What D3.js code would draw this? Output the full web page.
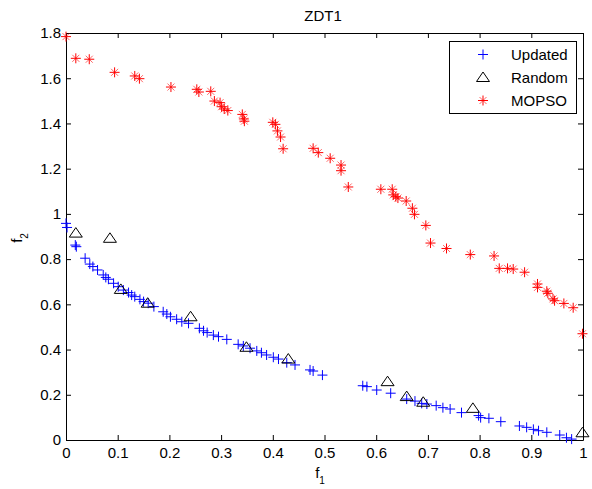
<!DOCTYPE html>
<html>
<head>
<meta charset="utf-8">
<script src="https://cdn.jsdelivr.net/npm/d3@7"></script>
<style>
  body { margin: 0; background: #fff; }
  svg { display: block; font-family: "Liberation Sans", Arial, sans-serif; }
</style>
</head>
<body>
<svg id="chart" width="592" height="489"></svg>
<script>
// tick labels
const xTicks = [0, 0.1, 0.2, 0.3, 0.4, 0.5, 0.6, 0.7, 0.8, 0.9, 1]
const yTicks = [0, 0.2, 0.4, 0.6, 0.8, 1, 1.2, 1.4, 1.6, 1.8]

// series: [f1, f2]
const updated = [
  [0, 0.958], [0.002, 0.940], [0.018, 0.862], [0.020, 0.855], [0.037, 0.804],
  [0.046, 0.778], [0.052, 0.767], [0.061, 0.752], [0.072, 0.730], [0.077, 0.719],
  [0.082, 0.711], [0.092, 0.693], [0.101, 0.678], [0.111, 0.663], [0.121, 0.652],
  [0.127, 0.641], [0.133, 0.634], [0.143, 0.622], [0.150, 0.612], [0.159, 0.605],
  [0.170, 0.590], [0.188, 0.567], [0.195, 0.557], [0.202, 0.545], [0.214, 0.534],
  [0.224, 0.523], [0.237, 0.516], [0.258, 0.494], [0.266, 0.483], [0.273, 0.475],
  [0.285, 0.464], [0.295, 0.457], [0.311, 0.445], [0.333, 0.423], [0.343, 0.416],
  [0.356, 0.406], [0.369, 0.394], [0.378, 0.386], [0.388, 0.376], [0.401, 0.366],
  [0.411, 0.358], [0.427, 0.342], [0.443, 0.332], [0.472, 0.310], [0.478, 0.305],
  [0.496, 0.287], [0.574, 0.240], [0.582, 0.236], [0.601, 0.221], [0.628, 0.207],
  [0.659, 0.181], [0.675, 0.172], [0.688, 0.162], [0.698, 0.159], [0.716, 0.152],
  [0.729, 0.143], [0.743, 0.137], [0.765, 0.121], [0.798, 0.108], [0.802, 0.099],
  [0.818, 0.096], [0.841, 0.081], [0.877, 0.062], [0.891, 0.056], [0.904, 0.047],
  [0.914, 0.041], [0.930, 0.034], [0.955, 0.022], [0.968, 0.010], [0.978, 0.004]
]
const random = [
  [0.019, 0.915], [0.085, 0.892], [0.106, 0.666], [0.158, 0.605], [0.241, 0.545],
  [0.349, 0.410], [0.430, 0.358], [0.622, 0.258], [0.659, 0.192], [0.691, 0.167],
  [0.787, 0.140], [0.999, 0.032]
]
const mopso = [
  [0, 1.784], [0.019, 1.688], [0.045, 1.684], [0.094, 1.626], [0.133, 1.610],
  [0.142, 1.598], [0.203, 1.561], [0.253, 1.551], [0.257, 1.539], [0.280, 1.542],
  [0.287, 1.499], [0.298, 1.492], [0.301, 1.474], [0.306, 1.464], [0.313, 1.457],
  [0.341, 1.440], [0.344, 1.420], [0.345, 1.410], [0.400, 1.405], [0.405, 1.396],
  [0.409, 1.367], [0.415, 1.340], [0.420, 1.288], [0.478, 1.290], [0.488, 1.271],
  [0.511, 1.246], [0.532, 1.216], [0.532, 1.191], [0.546, 1.119], [0.609, 1.109],
  [0.631, 1.109], [0.633, 1.084], [0.638, 1.076], [0.642, 1.070], [0.658, 1.057],
  [0.670, 1.025], [0.674, 0.998], [0.696, 0.949], [0.705, 0.871], [0.736, 0.847],
  [0.782, 0.820], [0.828, 0.814], [0.838, 0.759], [0.854, 0.759], [0.865, 0.756],
  [0.887, 0.742], [0.912, 0.690], [0.912, 0.675], [0.930, 0.658], [0.932, 0.649],
  [0.942, 0.624], [0.945, 0.616], [0.963, 0.604], [0.981, 0.585], [0.999, 0.470]
]
const seriesNames = ["Updated", "Random", "MOPSO"]

const svg = d3.select("#chart")
const mLeft = 66, mRight = 583, mTop = 33, mBottom = 440

const x = d3.scaleLinear().domain([0, 1]).range([mLeft, mRight])
const y = d3.scaleLinear().domain([0, 1.8]).range([mBottom, mTop])
const fmt = d => String(+d.toFixed(1))

// axes, ticks point inward like matlab
svg.append("g").attr("transform", `translate(0,${mBottom})`)
  .call(d3.axisBottom(x).tickValues(xTicks).tickFormat(fmt).tickSizeInner(-5).tickSizeOuter(0).tickPadding(7))
svg.append("g").attr("transform", `translate(${mLeft},0)`)
  .call(d3.axisLeft(y).tickValues(yTicks).tickFormat(fmt).tickSizeInner(-5).tickSizeOuter(0).tickPadding(5))
svg.append("g").attr("transform", `translate(0,${mTop})`)
  .call(d3.axisTop(x).tickValues(xTicks).tickFormat("").tickSizeInner(-5).tickSizeOuter(0))
svg.append("g").attr("transform", `translate(${mRight},0)`)
  .call(d3.axisRight(y).tickValues(yTicks).tickFormat("").tickSizeInner(-5).tickSizeOuter(0))

svg.selectAll(".tick text").attr("font-size", 15).attr("fill", "#000")
  .attr("font-family", "Liberation Sans, Arial, sans-serif")
svg.selectAll(".domain, .tick line").attr("stroke", "#000")

// marker shapes
function plus(g, c) {
  g.append("line").attr("x1", -5).attr("x2", 5).attr("y1", 0).attr("y2", 0).attr("stroke", c)
  g.append("line").attr("x1", 0).attr("x2", 0).attr("y1", -5).attr("y2", 5).attr("stroke", c)
}
function tri(g, c) {
  g.append("path").attr("d", "M0,-5.5L6.5,4L-6.5,4Z").attr("fill", "none").attr("stroke", c)
}
function star(g, c) {
  plus(g, c)
  g.append("line").attr("x1", -3.5).attr("x2", 3.5).attr("y1", -3.5).attr("y2", 3.5).attr("stroke", c).attr("stroke-opacity", 0.6)
  g.append("line").attr("x1", -3.5).attr("x2", 3.5).attr("y1", 3.5).attr("y2", -3.5).attr("stroke", c).attr("stroke-opacity", 0.6)
}

const layers = [
  { data: updated, draw: plus, color: "#0000ff" },
  { data: random, draw: tri, color: "#000" },
  { data: mopso, draw: star, color: "#ff0000" }
]

layers.forEach(l => {
  svg.append("g").selectAll("g").data(l.data).enter().append("g")
    .attr("transform", d => `translate(${x(d[0])},${y(d[1])})`)
    .each(function() { l.draw(d3.select(this), l.color) })
})

// legend
const lg = svg.append("g")
lg.append("rect").attr("x", 449.5).attr("y", 41.5).attr("width", 127).attr("height", 72)
  .attr("fill", "#fff").attr("stroke", "#000")
layers.forEach((l, i) => {
  const row = lg.append("g").attr("transform", `translate(483,${54.5 + i * 23})`)
  l.draw(row, l.color)
  lg.append("text").attr("x", 511).attr("y", 60 + i * 23).attr("font-size", 15).text(seriesNames[i])
})

// title and labels
svg.append("text").attr("x", 323).attr("y", 21).attr("text-anchor", "middle").attr("font-size", 15).text("ZDT1")

const xl = svg.append("text").attr("x", 320).attr("y", 478).attr("text-anchor", "middle").attr("font-size", 15)
xl.append("tspan").text("f")
xl.append("tspan").attr("dy", 6).attr("font-size", 10).text("1")

const yl = svg.append("text").attr("transform", "translate(22,238) rotate(-90)").attr("text-anchor", "middle").attr("font-size", 15)
yl.append("tspan").text("f")
yl.append("tspan").attr("dy", 6).attr("font-size", 10).text("2")
</script>
</body>
</html>
